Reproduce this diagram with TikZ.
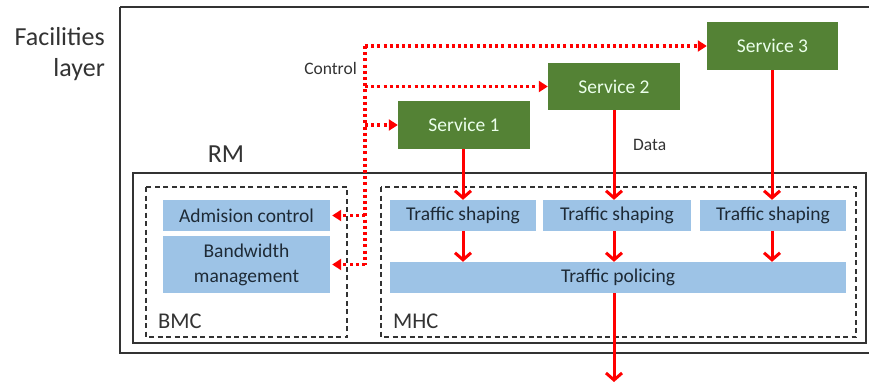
\documentclass[tikz,border=0pt]{standalone}
\usepackage{fontspec}
\setmainfont{Carlito}
\usetikzlibrary{arrows.meta}
\definecolor{svcgreen}{HTML}{548235}
\definecolor{boxblue}{HTML}{9DC3E6}
\definecolor{txtdark}{HTML}{1E2A36}
\definecolor{linegray}{HTML}{333333}
\tikzset{
  svc/.style={draw=none, fill=svcgreen, text=white!92!green, font=\fontsize{19.5}{22}\selectfont, inner sep=0pt},
  blu/.style={draw=none, fill=boxblue, text=txtdark, font=\fontsize{19.5}{25}\selectfont, inner sep=0pt, align=center},
  dbox/.style={draw=linegray, line width=1.3pt, dash pattern=on 5pt off 3.5pt},
  sbox/.style={draw=linegray, line width=1.4pt},
  dataarr/.style={draw=red, line width=3pt, -{Straight Barb[length=7pt, width=16pt, line width=3pt]}},
  ctrl/.style={draw=red, line width=3.2pt, dash pattern=on 3pt off 3.2pt},
  ctrlarr/.style={ctrl, -{Triangle[length=9pt, width=11pt]}},
  lbl/.style={text=linegray, inner sep=0pt}
}
\begin{document}
\begin{tikzpicture}[x=1pt, y=-1pt]
\useasboundingbox (0,0) rectangle (869,383);
\fill[white] (0,0) rectangle (869,383);
% outer facilities box
\draw[sbox] (120,7) -- (880,7);
\draw[sbox] (120,7) -- (120,353) -- (880,353);
% RM box
\draw[sbox] (133,173) rectangle (866,343);
% dashed boxes
\draw[dbox] (146,187) rectangle (347,337);
\draw[dbox] (381,187) rectangle (856,337);
% labels
\node[lbl, anchor=east, align=right, font=\fontsize{26}{31}\selectfont] (fac) at (105,54) {Facilities\\layer};
\node[lbl, font=\fontsize{26}{30}\selectfont] (rm) at (226,154) {RM};
\node[lbl, anchor=west, font=\fontsize{22.5}{26}\selectfont] (bmc) at (158,321) {BMC};
\node[lbl, anchor=west, font=\fontsize{22.5}{26}\selectfont] (mhc) at (393,321) {MHC};
\node[lbl, anchor=east, font=\fontsize{17.5}{20}\selectfont] (ctl) at (357,68) {Control};
\node[lbl, anchor=west, font=\fontsize{17.5}{20}\selectfont] (data) at (633,145) {Data};
% blue boxes
\node[blu, minimum width=167pt, minimum height=31pt] (adm) at (246.5,215.5) {Admision control};
\node[blu, minimum width=167pt, minimum height=57pt] (bw) at (246.5,264.5) {Bandwidth\\management};
\node[blu, minimum width=146pt, minimum height=31pt] (ts1) at (463,215.5) {Traffic shaping};
\node[blu, minimum width=148pt, minimum height=31pt] (ts2) at (617,215.5) {Traffic shaping};
\node[blu, minimum width=146pt, minimum height=31pt] (ts3) at (773,215.5) {Traffic shaping};
\node[blu, minimum width=456pt, minimum height=31pt] (pol) at (618,277.5) {Traffic policing};
% services
\node[svc, minimum width=132pt, minimum height=48pt] (s1) at (464,125) {Service 1};
\node[svc, minimum width=132pt, minimum height=47pt] (s2) at (614,86.5) {Service 2};
\node[svc, minimum width=131pt, minimum height=48pt] (s3) at (772.5,46) {Service 3};
% control lines
\coordinate (ctop) at (365,46);
\coordinate (cbot) at (365,265);
\draw[ctrl] (ctop) -- (cbot);
\draw[ctrlarr] (ctop) -- (s3.west);
\draw[ctrlarr] (s2.west -| ctop) -- (s2.west);
\draw[ctrlarr] (s1.west -| ctop) -- (s1.west);
\draw[ctrlarr] (adm.east -| ctop) -- ([xshift=2pt]adm.east);
\draw[ctrlarr] (bw.east -| cbot) -- ([xshift=2pt]bw.east);
% data arrows
\draw[dataarr] (s1.south -| 463,0) -- (ts1.north -| 463,0);
\draw[dataarr] (s2.south) -- (s2.south |- ts2.north);
\draw[dataarr] (s3.south -| 772,0) -- (ts3.north -| 772,0);
\draw[dataarr] (ts1.south -| 463,0) -- (pol.north -| 463,0);
\draw[dataarr] (ts2.south -| 614,0) -- (pol.north -| 614,0);
\draw[dataarr] (ts3.south -| 772,0) -- (pol.north -| 772,0);
\coordinate (out) at (614,382);
\draw[dataarr] (pol.south -| out) -- (out);
\end{tikzpicture}
\end{document}
